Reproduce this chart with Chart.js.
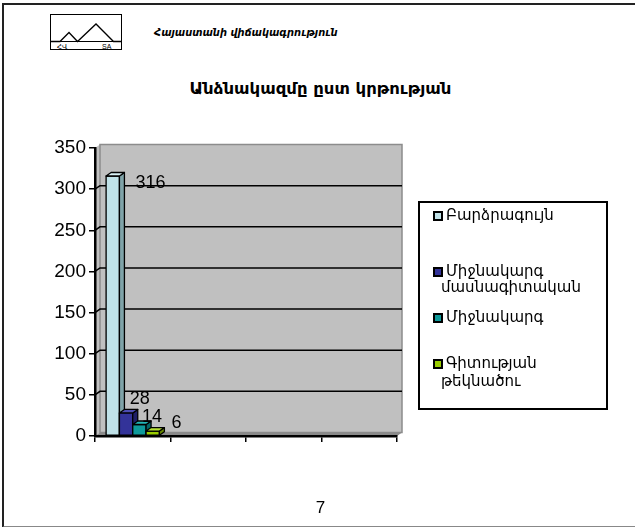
<!DOCTYPE html>
<html>
<head>
<meta charset="utf-8">
<script src="https://cdn.jsdelivr.net/npm/chart.js@4/dist/chart.umd.min.js"></script>
<style>
  html, body { margin: 0; padding: 0; background: #fff; }
  #page { position: relative; width: 635px; height: 527px; overflow: hidden; background: #fff; }
  #frame { position: absolute; left: 2px; top: 3px; width: 700px; height: 521px;
           border-left: 2px solid #222; border-top: 2px solid #222; border-bottom: 2px solid #888; }
  #chart { position: absolute; left: 0; top: 0; }
  .txt { position: absolute; white-space: nowrap; color: #000; font-family: "DejaVu Sans", "Liberation Sans", sans-serif; }
  #legend { position: absolute; left: 418px; top: 201px; width: 186px; height: 205px; border: 2px solid #000; box-sizing: content-box; }
  .mk { position: absolute; width: 6px; height: 6px; border: 2px solid #000; }
</style>
</head>
<body>
<div id="page">
  <div id="frame"></div>
  <svg style="position:absolute;left:0;top:0" width="200" height="60">
    <rect x="50.5" y="14.5" width="71" height="35" fill="none" stroke="#000" stroke-width="1"/>
    <line x1="50.5" y1="41.5" x2="121.5" y2="41.5" stroke="#000" stroke-width="1"/>
    <polyline points="50.5,41.5 60,41.5 69,32.5 77.5,41.5 96,24 113.5,41.5 121.5,41.5" fill="none" stroke="#000" stroke-width="1.3"/>
    <text x="57" y="48.5" font-size="7" font-family="DejaVu Sans">ՀՎ</text>
    <text x="102" y="48.5" font-size="7" font-family="Liberation Sans">SA</text>
  </svg>
  <div class="txt" id="hdr" style="left:154px; top:26px; font-size:11px; font-style:italic; font-weight:bold; font-family:'DejaVu Sans Condensed','DejaVu Sans',sans-serif;"></div>
  <div class="txt" id="ttl" style="left:3px; width:635px; text-align:center; top:79px; font-size:16.5px; font-weight:bold; font-family:'DejaVu Sans',sans-serif;"></div>
  <canvas id="chart" width="635" height="527"></canvas>
  <div id="legend"></div>
  <div class="txt" id="pg" style="left:3px; width:635px; text-align:center; top:498px; font-size:17px; font-family:'Liberation Sans',sans-serif;"></div>
</div>
<script>
// ---- data ----
const headerText = 'Հայաստանի վիճակագրություն';
const titleText = 'Անձնակազմը ըստ կրթության';
const pageNumber = '7';
const categories = ['', '', '', ''];
const seriesNames = ['Բարձրագույն', 'Միջնակարգ մասնագիտական', 'Միջնակարգ', 'Գիտության թեկնածու'];
const legendLines = [['Բարձրագույն'], ['Միջնակարգ', 'մասնագիտական'], ['Միջնակարգ'], ['Գիտության', 'թեկնածու']];
const valBarcragujn = [316, null, null, null];
const valMijnMasn = [28, null, null, null];
const valMijn = [14, null, null, null];
const valGitutyan = [6, null, null, null];
const yTicks = [0, 50, 100, 150, 200, 250, 300, 350];

// ---- styles ----
const colors = ['#C0E2E8', '#333399', '#0E9A9A', '#99CC00'];
const sideColors = ['#7FA3A8', '#1E1E66', '#066666', '#668800'];
const topColors = ['#D8F0F4', '#4D4DB3', '#22B5B5', '#B5E033'];
const labelOffsets = [[16, 7], [-3, -14], [-4, -7], [12, -8]]; // [dx from bar right, dy from bar top]
const DX = 5, DY = 3.5;

document.getElementById('hdr').textContent = headerText;
document.getElementById('ttl').textContent = titleText;
document.getElementById('pg').textContent = pageNumber;

// legend
const legendItemTops = [[207], [263, 279], [309], [355, 373]];
const leg = document.getElementById('legend');
legendLines.forEach((lines, i) => {
  const mk = document.createElement('div');
  mk.className = 'mk';
  mk.style.background = colors[i];
  mk.style.left = (433 - 420) + 'px';
  mk.style.top = (legendItemTops[i][0] + 4 - 203) + 'px';
  leg.appendChild(mk);
  lines.forEach((ln, j) => {
    const t = document.createElement('div');
    t.className = 'txt';
    t.style.fontSize = '15px';
    t.style.lineHeight = '17px';
    t.style.left = ((j === 0 ? 446 : 441) - 420) + 'px';
    t.style.top = (legendItemTops[i][j] - 203) + 'px';
    t.textContent = ln;
    leg.appendChild(t);
  });
});

const seriesValues = [valBarcragujn, valMijnMasn, valMijn, valGitutyan];

const threeD = {
  id: 'threeD',
  beforeDraw(chart) {
    const { ctx, chartArea: { left, right, top, bottom } } = chart;
    const y = chart.scales.y;
    ctx.save();
    ctx.fillStyle = '#C0C0C0';
    ctx.beginPath();
    ctx.moveTo(left, top); ctx.lineTo(left + DX, top - DY); ctx.lineTo(left + DX, bottom - DY); ctx.lineTo(left, bottom);
    ctx.closePath(); ctx.fill();
    ctx.fillRect(left + DX, top - DY, right - left, bottom - top);
    ctx.strokeStyle = '#8C8C8C'; ctx.lineWidth = 1.5;
    ctx.strokeRect(left + DX, top - DY, right - left, bottom - top);
    ctx.fillStyle = '#8A8A8A';
    ctx.beginPath();
    ctx.moveTo(left, bottom); ctx.lineTo(left + DX, bottom - DY); ctx.lineTo(right + DX, bottom - DY); ctx.lineTo(right, bottom);
    ctx.closePath(); ctx.fill();
    ctx.strokeStyle = '#000'; ctx.lineWidth = 1.5;
    y.ticks.forEach(t => {
      if (t.value <= y.min || t.value >= y.max) return;
      const py = y.getPixelForValue(t.value);
      ctx.beginPath();
      ctx.moveTo(left, py); ctx.lineTo(left + DX, py - DY); ctx.lineTo(right + DX, py - DY);
      ctx.stroke();
    });
    ctx.restore();
  },
  afterDatasetsDraw(chart) {
    const { ctx } = chart;
    ctx.save();
    chart.data.datasets.forEach((ds, i) => {
      const meta = chart.getDatasetMeta(i);
      meta.data.forEach((el, k) => {
        const v = ds.data[k];
        if (v === null || v === undefined) return;
        const x0 = el.x - el.width / 2, x1 = el.x + el.width / 2, yt = el.y, yb = el.base;
        ctx.lineWidth = 1.3; ctx.strokeStyle = '#000'; ctx.lineJoin = 'round';
        ctx.fillStyle = colors[i];
        ctx.beginPath(); ctx.rect(x0, yt, x1 - x0, yb - yt); ctx.fill(); ctx.stroke();
        ctx.fillStyle = sideColors[i];
        ctx.beginPath();
        ctx.moveTo(x1, yt); ctx.lineTo(x1 + DX, yt - DY); ctx.lineTo(x1 + DX, yb - DY); ctx.lineTo(x1, yb);
        ctx.closePath(); ctx.fill(); ctx.stroke();
        ctx.fillStyle = topColors[i];
        ctx.beginPath();
        ctx.moveTo(x0, yt); ctx.lineTo(x0 + DX, yt - DY); ctx.lineTo(x1 + DX, yt - DY); ctx.lineTo(x1, yt);
        ctx.closePath(); ctx.fill(); ctx.stroke();
        ctx.fillStyle = '#000';
        ctx.font = '18px "Liberation Sans", Arial, sans-serif';
        ctx.textAlign = 'left'; ctx.textBaseline = 'middle';
        ctx.fillText(String(v), x1 + labelOffsets[i][0], yt + labelOffsets[i][1]);
      });
    });
    ctx.restore();
  }
};

new Chart(document.getElementById('chart'), {
  type: 'bar',
  data: {
    labels: categories,
    datasets: seriesNames.map((n, i) => ({
      label: n,
      data: seriesValues[i],
      backgroundColor: colors[i],
      borderColor: '#000',
      borderWidth: 1,
      categoryPercentage: 0.706,
      barPercentage: 1.0
    }))
  },
  options: {
    responsive: false,
    animation: false,
    devicePixelRatio: 1,
    layout: { padding: { left: 40, right: 238, top: 148, bottom: 71 } },
    plugins: { legend: { display: false }, tooltip: { enabled: false } },
    scales: {
      x: {
        afterFit(s) { s.height = 20; },
        grid: { drawOnChartArea: false, drawTicks: true, tickLength: 6, color: '#000', lineWidth: 1.5, offset: true },
        border: { display: true, color: '#000', width: 2.5 },
        ticks: { display: false }
      },
      y: {
        min: 0, max: 350,
        afterFit(s) { s.width = 55; },
        afterBuildTicks(s) { s.ticks = yTicks.map(v => ({ value: v })); },
        grid: { drawOnChartArea: false, drawTicks: true, tickLength: 6, color: '#000', lineWidth: 1.5 },
        border: { display: true, color: '#000', width: 2.5 },
        ticks: { color: '#000', padding: 3, font: { family: '"Liberation Sans", Arial, sans-serif', size: 19 } }
      }
    }
  },
  plugins: [threeD]
});
</script>
</body>
</html>
